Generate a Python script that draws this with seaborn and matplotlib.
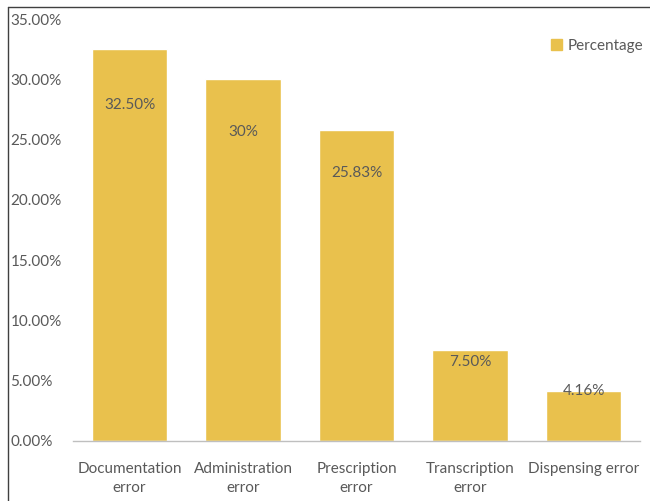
import matplotlib
matplotlib.use("Agg")
import matplotlib.pyplot as plt
import seaborn as sns
import pandas as pd
from matplotlib.lines import Line2D
from matplotlib.patches import Patch

categories = ["Documentation\nerror", "Administration\nerror", "Prescription\nerror",
              "Transcription\nerror", "Dispensing error"]
values = [32.50, 30.0, 25.83, 7.50, 4.16]
labels = ["32.50%", "30%", "25.83%", "7.50%", "4.16%"]
yticks = [0, 5, 10, 15, 20, 25, 30, 35]

sns.set_theme(style="white")
plt.rcParams['font.family'] = ['Lato', 'DejaVu Sans']

bar_color = "#E9C14D"
text_color = "#595959"
fs = 11

df = pd.DataFrame({"cat": categories, "val": values})
fig = plt.figure(figsize=(6.5, 5.01), dpi=100)
ax = fig.add_axes([0.112, 0.12, 0.873, 0.842])
sns.barplot(data=df, x="cat", y="val", color=bar_color, width=0.665, saturation=1, ax=ax)

ax.set_ylim(0, 35)
ax.set_xlim(-0.5, 4.5)
ax.set_yticks(yticks)
ax.set_yticklabels([f"{t:.2f}%" for t in yticks])
ax.set_xlabel("")
ax.set_ylabel("")
for s in ["top", "right", "left"]:
    ax.spines[s].set_visible(False)
ax.spines["bottom"].set_color("#BFBFBF")
ax.spines["bottom"].set_linewidth(1)
ax.tick_params(axis="both", length=0, labelsize=fs, colors=text_color)
ax.tick_params(axis="x", pad=15)
for lab in ax.get_xticklabels():
    lab.set_linespacing(1.5)
for lab in ax.get_yticklabels():
    lab.set_horizontalalignment("left")
    lab.set_transform(matplotlib.transforms.blended_transform_factory(fig.transFigure, ax.transData))
    lab.set_x(0.016)

# label offsets below bar top (in data units)
offsets = [4.6, 4.35, 3.6, 0.95, 0.05]
for i, (v, lab) in enumerate(zip(values, labels)):
    ax.text(i, v - offsets[i], lab, ha="center", va="center", fontsize=fs, color=text_color)

handle = Patch(facecolor=bar_color, edgecolor=bar_color)
leg = ax.legend([handle], ["Percentage"], loc="upper right", bbox_to_anchor=(1.03, 0.985),
                frameon=False, fontsize=fs, handlelength=0.7, handleheight=0.7,
                handletextpad=0.4)
for t in leg.get_texts():
    t.set_color(text_color)

# figure border (left and top visible)
fig.add_artist(Line2D([0.0125, 0.0125], [0, 0.986], transform=fig.transFigure, color="#404040", lw=1))
fig.add_artist(Line2D([0.0125, 1.0], [0.986, 0.986], transform=fig.transFigure, color="#404040", lw=1))

fig.savefig("out.png", dpi=100)
